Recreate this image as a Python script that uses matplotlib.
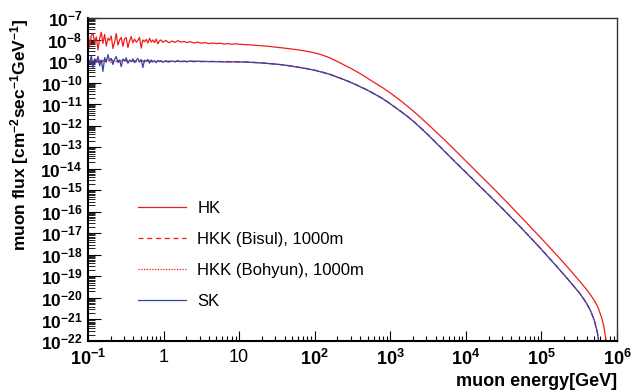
import matplotlib
matplotlib.use("Agg")
import matplotlib.pyplot as plt
import numpy as np
from matplotlib.ticker import LogLocator, FixedLocator, FixedFormatter, NullFormatter

plt.rcParams["font.family"] = ["Liberation Sans", "DejaVu Sans"]
plt.rcParams["mathtext.fontset"] = "custom"
plt.rcParams["mathtext.rm"] = "Liberation Sans:bold"
plt.rcParams["mathtext.it"] = "Liberation Sans:bold"
plt.rcParams["mathtext.bf"] = "Liberation Sans:bold"

# log10(energy / GeV) grid of the noisy low-energy part (HK and SK)
fine_log_e = [-1.000, -0.978, -0.956, -0.934, -0.912, -0.890, -0.868, -0.846, -0.824, -0.802,
              -0.780, -0.758, -0.736, -0.714, -0.692, -0.670, -0.648, -0.626, -0.604, -0.582,
              -0.560, -0.538, -0.516, -0.494, -0.472, -0.450, -0.428, -0.406, -0.384, -0.362,
              -0.340, -0.318, -0.296, -0.274, -0.252, -0.230, -0.208, -0.186, -0.164, -0.142,
              -0.120, -0.098, -0.076, -0.054, -0.032, -0.010,
              0.03, 0.07, 0.11, 0.15, 0.19, 0.23, 0.27, 0.31, 0.35, 0.40,
              0.45, 0.50, 0.55, 0.60, 0.65, 0.70, 0.75, 0.80, 0.85, 0.90, 0.95, 1.00]
# smooth high-energy part, log10(energy / GeV)
tail_e = [1.1, 1.2, 1.3, 1.4, 1.5, 1.6, 1.7, 1.8, 1.9, 2.0,
          2.1, 2.2, 2.3, 2.4, 2.5, 2.6, 2.7, 2.8, 2.9, 3.0,
          3.1, 3.2, 3.3, 3.4, 3.5, 3.6, 3.7, 3.8, 3.9, 4.0,
          4.1, 4.2, 4.3, 4.4, 4.5, 4.6, 4.7, 4.8, 4.9, 5.0,
          5.1, 5.2, 5.3, 5.4, 5.5, 5.55, 5.6, 5.65, 5.7, 5.74, 5.77, 5.775]
hk_tail_e = [1.1, 1.2, 1.3, 1.4, 1.5, 1.6, 1.7, 1.8, 1.9, 2.0,
             2.1, 2.2, 2.3, 2.4, 2.5, 2.6, 2.7, 2.8, 2.9, 3.0,
             3.1, 3.2, 3.3, 3.4, 3.5, 3.6, 3.7, 3.8, 3.9, 4.0,
             4.1, 4.2, 4.3, 4.4, 4.5, 4.6, 4.7, 4.8, 4.9, 5.0,
             5.1, 5.2, 5.3, 5.4, 5.5, 5.6, 5.65, 5.7, 5.75, 5.8, 5.83, 5.86, 5.87]

# HK, log10(flux)
hk_low_f = [-7.60, -8.35, -7.80, -7.74, -8.12, -7.88, -8.48, -7.95, -7.66, -8.18,
            -7.76, -8.30, -7.94, -8.04, -7.84, -8.42, -8.12, -7.72, -8.26, -8.02,
            -7.90, -8.32, -7.97, -7.91, -8.38, -8.06, -7.86, -8.15, -7.98, -8.12,
            -8.04, -7.90, -8.40, -8.02, -8.10, -7.99, -8.16, -7.94, -8.12, -8.02,
            -8.14, -7.98, -8.20, -8.06, -8.02, -8.13,
            -8.04, -8.15, -8.07, -8.13, -8.05, -8.12, -8.09, -8.14, -8.10, -8.16,
            -8.12, -8.17, -8.14, -8.19, -8.16, -8.19, -8.17, -8.21, -8.19, -8.22, -8.20, -8.22]
hk_tail_f = [-8.24, -8.26, -8.29, -8.32, -8.36, -8.40, -8.44, -8.49, -8.55, -8.62,
             -8.72, -8.85, -9.02, -9.20, -9.38, -9.58, -9.80, -10.02, -10.24, -10.48,
             -10.74, -11.02, -11.31, -11.62, -11.94, -12.27, -12.60, -12.94, -13.29, -13.64,
             -13.99, -14.34, -14.69, -15.04, -15.40, -15.76, -16.13, -16.50, -16.87, -17.24,
             -17.62, -18.00, -18.39, -18.79, -19.20, -19.62, -19.86, -20.12, -20.45, -20.95,
             -21.40, -22.10, -30]

# SK
sk_low_f = [-8.85, -9.12, -8.74, -9.32, -8.90, -9.06, -8.78, -9.22, -8.95, -9.48,
            -8.84, -9.06, -8.70, -9.00, -8.88, -9.16, -8.92, -8.79, -9.06, -8.95,
            -9.26, -8.90, -9.00, -8.85, -9.10, -8.95, -9.02, -8.90, -9.08, -8.97,
            -8.88, -9.05, -8.93, -9.30, -8.96, -9.02, -8.92, -9.10, -8.95, -9.04,
            -8.98, -9.08, -8.97, -9.03, -8.99, -9.06,
            -8.98, -9.05, -8.99, -9.04, -8.98, -9.03, -9.00, -9.04, -8.99, -9.03,
            -9.00, -9.03, -9.01, -9.03, -9.01, -9.03, -9.02, -9.04, -9.02, -9.04, -9.03, -9.04]
sk_tail_f = [-9.05, -9.07, -9.09, -9.12, -9.15, -9.19, -9.24, -9.30, -9.36, -9.43,
             -9.52, -9.62, -9.75, -9.88, -10.03, -10.19, -10.36, -10.55, -10.75, -10.99,
             -11.24, -11.50, -11.78, -12.10, -12.43, -12.78, -13.13, -13.48, -13.83, -14.17,
             -14.52, -14.87, -15.21, -15.56, -15.91, -16.27, -16.63, -17.00, -17.37, -17.75,
             -18.14, -18.53, -18.93, -19.34, -19.76, -20.00, -20.27, -20.60, -21.05, -21.60,
             -22.30, -30]

# HKK at 1000m (Bisul, Bohyun)
hkk_low_e = [-1.0, -0.95, -0.9, -0.85, -0.8, -0.75, -0.7, -0.65, -0.6, -0.55, -0.5, -0.45,
             -0.4, -0.35, -0.3, -0.25, -0.2, -0.15, -0.1, -0.05, 0.0, 0.05, 0.1, 0.15, 0.2,
             0.25, 0.3, 0.35, 0.4, 0.45, 0.5, 0.55, 0.6, 0.65, 0.7, 0.75, 0.8, 0.85, 0.9,
             0.95, 1.0]
bisul_low_f = [-8.95, -9.05, -8.92, -9.10, -8.97, -9.02, -8.90, -9.06, -8.98, -9.03,
               -8.94, -9.08, -8.99, -9.02, -8.96, -9.04, -8.99, -9.03, -8.97, -9.02,
               -9.00, -9.03, -8.99, -9.02, -9.00, -9.03, -9.01, -9.02, -9.00, -9.03,
               -9.01, -9.02, -9.02, -9.03, -9.02, -9.03, -9.03, -9.04, -9.03, -9.04, -9.04]
bisul_tail_f = [-9.04, -9.06, -9.08, -9.11, -9.14, -9.18, -9.23, -9.29, -9.35, -9.42,
                -9.51, -9.61, -9.74, -9.87, -10.02, -10.18, -10.35, -10.54, -10.74, -10.98,
                -11.23, -11.49, -11.77, -12.09, -12.42, -12.77, -13.12, -13.47, -13.82, -14.16,
                -14.51, -14.86, -15.20, -15.55, -15.90, -16.26, -16.62, -16.99, -17.36, -17.74,
                -18.13, -18.52, -18.92, -19.33, -19.75, -19.99, -20.26, -20.59, -21.04, -21.59,
                -22.30, -30]
bohyun_low_f = [-9.02, -8.93, -9.08, -8.96, -9.04, -8.91, -9.07, -8.99, -9.05, -8.95,
                -9.01, -9.06, -8.97, -9.03, -9.00, -8.97, -9.04, -9.00, -9.02, -8.98,
                -9.03, -9.00, -9.02, -9.01, -9.03, -9.00, -9.02, -9.01, -9.03, -9.01,
                -9.02, -9.03, -9.02, -9.03, -9.03, -9.02, -9.04, -9.03, -9.04, -9.03, -9.04]
bohyun_tail_f = [-9.045, -9.065, -9.085, -9.115, -9.145, -9.185, -9.235, -9.295, -9.355, -9.425,
                 -9.515, -9.615, -9.745, -9.875, -10.025, -10.185, -10.355, -10.545, -10.745, -10.985,
                 -11.235, -11.495, -11.775, -12.095, -12.425, -12.775, -13.125, -13.475, -13.825, -14.165,
                 -14.515, -14.865, -15.205, -15.555, -15.905, -16.265, -16.625, -16.995, -17.365, -17.745,
                 -18.135, -18.525, -18.925, -19.335, -19.755, -19.995, -20.265, -20.595, -21.045, -21.595,
                 -22.30, -30]

labels = ["HK", "HKK (Bisul), 1000m", "HKK (Bohyun), 1000m", "SK"]
x_ticks = [0.1, 1, 10, 1e2, 1e3, 1e4, 1e5, 1e6]
x_tick_labels = [r"$10^{-1}$", "1", "10", r"$10^{2}$", r"$10^{3}$", r"$10^{4}$", r"$10^{5}$", r"$10^{6}$"]
y_exps = list(range(-22, -6))

hk_e = 10.0 ** np.array([-1.0] + fine_log_e + hk_tail_e)
hk_f = 10.0 ** np.array([-30] + hk_low_f + hk_tail_f)
sk_e = 10.0 ** np.array(fine_log_e + tail_e)
sk_f = 10.0 ** np.array(sk_low_f + sk_tail_f)
hkk_e = 10.0 ** np.array(hkk_low_e + tail_e)
bisul_f = 10.0 ** np.array(bisul_low_f + bisul_tail_f)
bohyun_f = 10.0 ** np.array(bohyun_low_f + bohyun_tail_f)

red = "#f01c1c"
blue = "#3444aa"

fig = plt.figure(figsize=(6.31, 3.90), dpi=100)
ax = fig.add_axes([88 / 631, 1 - 341 / 390, 529 / 631, 323 / 390])

l_hk, = ax.plot(hk_e, hk_f, color=red, lw=0.9)
l_bis, = ax.plot(hkk_e, bisul_f, color=red, lw=0.9, ls=(0, (4, 3)))
l_boh, = ax.plot(hkk_e, bohyun_f, color=red, lw=0.9, ls=(0, (1, 1.2)))
l_sk, = ax.plot(sk_e, sk_f, color=blue, lw=0.9)

ax.set_xscale("log")
ax.set_yscale("log")
ax.set_xlim(0.1, 1e6)
ax.set_ylim(1e-22, 1e-7)

ax.xaxis.set_major_locator(FixedLocator(x_ticks))
ax.xaxis.set_major_formatter(FixedFormatter(x_tick_labels))
ax.xaxis.set_minor_locator(LogLocator(base=10, subs=np.arange(2, 10), numticks=100))
ax.xaxis.set_minor_formatter(NullFormatter())
ax.yaxis.set_major_locator(FixedLocator([10.0 ** e for e in y_exps]))
ax.yaxis.set_major_formatter(FixedFormatter([r"$10^{%d}$" % e for e in y_exps]))
ax.yaxis.set_minor_locator(LogLocator(base=10, subs=np.arange(2, 10), numticks=100))
ax.yaxis.set_minor_formatter(NullFormatter())

ax.tick_params(axis="both", which="both", direction="in", top=False, right=False, colors="black")
ax.tick_params(axis="x", which="major", length=7.5, width=0.8, pad=6, labelsize=13)
ax.tick_params(axis="x", which="minor", length=3.8, width=0.8)
ax.tick_params(axis="y", which="major", length=9.5, width=0.8, pad=4, labelsize=12.5)
ax.tick_params(axis="y", which="minor", length=5, width=0.6)

for s in ["left", "bottom"]:
    ax.spines[s].set_linewidth(1.5)
for s in ["top", "right"]:
    ax.spines[s].set_linewidth(1.0)
    ax.spines[s].set_color("#333333")

fig.text(617 / 631, 1 - 381 / 390, "muon energy[GeV]", ha="right", va="center",
         fontsize=13, fontweight="bold")
fig.text(20 / 631, 1 - 18 / 390, r"muon flux [cm$^{-2}$sec$^{-1}$GeV$^{-1}$]",
         rotation=90, ha="center", va="top", fontsize=12.5, fontweight="bold")

ax.legend([l_hk, l_bis, l_boh, l_sk], labels, loc="upper left",
          bbox_to_anchor=(50 / 529, 1 - 183 / 323), frameon=False, fontsize=12,
          handlelength=2.9, handletextpad=0.65, labelspacing=0.96,
          borderpad=0, borderaxespad=0)

fig.savefig("out.png", dpi=100)
